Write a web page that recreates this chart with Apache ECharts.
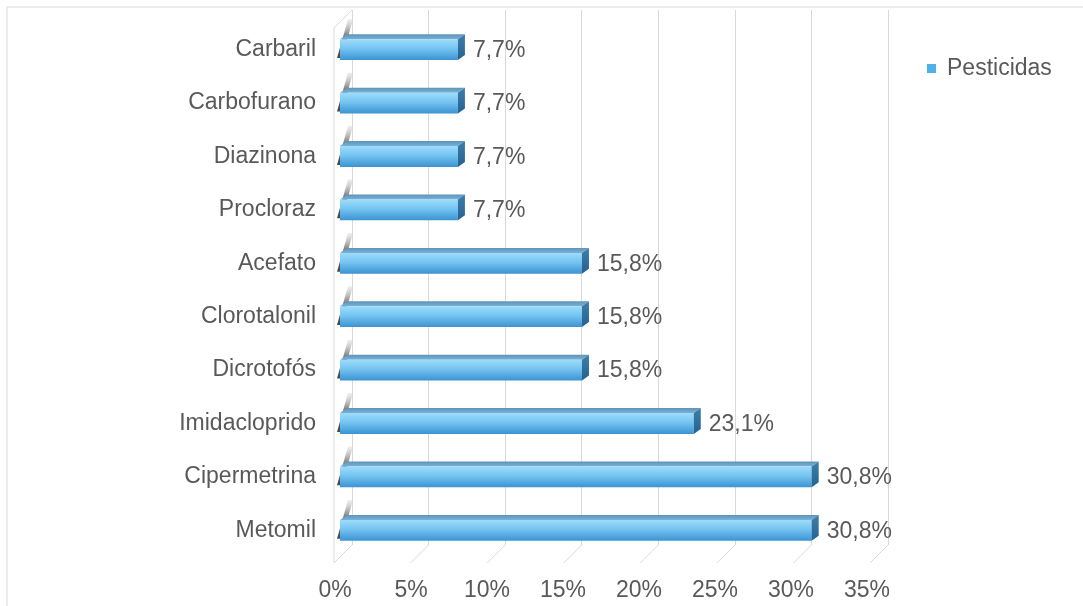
<!DOCTYPE html>
<html>
<head>
<meta charset="utf-8">
<script src="https://cdn.jsdelivr.net/npm/echarts@6/dist/echarts.min.js"></script>
<style>
html,body{margin:0;padding:0;background:#fff;}
#main{width:1083px;height:606px;}
</style>
</head>
<body>
<div id="main"></div>
<script>
const categories = ['Carbaril','Carbofurano','Diazinona','Procloraz','Acefato','Clorotalonil','Dicrotofós','Imidacloprido','Cipermetrina','Metomil'];
const values = [7.7, 7.7, 7.7, 7.7, 15.8, 15.8, 15.8, 23.1, 30.8, 30.8];
const ticks = [0, 5, 10, 15, 20, 25, 30, 35];
const seriesName = 'Pesticidas';

const FONT = 'Liberation Sans, Arial, sans-serif';
const TXT = '#595959';
const chart = echarts.init(document.getElementById('main'));

function fmt(v){ return v.toFixed(1).replace('.', ',') + '%'; }

const DX = 7, DY = 5;

chart.setOption({
  animation: false,
  backgroundColor: '#fff',
  graphic: [
    { type: 'rect', shape: { x: 7, y: 7, width: 1090, height: 620 }, style: { fill: 'none', stroke: '#d9d9d9', lineWidth: 1 }, z: 0 },
    { type: 'line', shape: { x1: 334, y1: 28, x2: 334, y2: 562 }, style: { stroke: '#d9d9d9', lineWidth: 1 }, z: 1 },
    { type: 'line', shape: { x1: 334, y1: 28, x2: 352, y2: 10 }, style: { stroke: '#d9d9d9', lineWidth: 1 }, z: 1 }
  ],
  legend: {
    data: [seriesName],
    left: 922, top: 52,
    icon: 'rect', itemWidth: 9, itemHeight: 9,
    textStyle: { fontFamily: FONT, fontSize: 23, color: TXT, padding: [0, 0, 0, 6] }
  },
  grid: [
    { left: 352, right: 195, top: 10, bottom: 61 },
    { left: 335, right: 216, top: 23, bottom: 49 },
    { left: 340, right: 207, top: 23, bottom: 49 }
  ],
  xAxis: [
    { gridIndex: 0, type: 'value', min: 0, max: 35, interval: 5,
      axisLine: { show: false }, axisTick: { show: false }, axisLabel: { show: false },
      splitLine: { show: true, lineStyle: { color: '#d9d9d9', width: 1 } } },
    { gridIndex: 1, type: 'value', min: 0, max: 35, interval: 5,
      axisLine: { show: false }, axisTick: { show: false }, splitLine: { show: false },
      axisLabel: { margin: 22, fontFamily: FONT, fontSize: 23, color: TXT, formatter: v => v + '%' } },
    { gridIndex: 2, type: 'value', min: 0, max: 35, interval: 5, show: false }
  ],
  yAxis: [
    { gridIndex: 0, type: 'value', min: 0, max: 1, show: false },
    { gridIndex: 1, type: 'category', data: categories, inverse: true, show: false },
    { gridIndex: 2, type: 'category', data: categories, inverse: true,
      axisLine: { show: false }, axisTick: { show: false }, splitLine: { show: false },
      axisLabel: { margin: 24, fontFamily: FONT, fontSize: 23, color: TXT } }
  ],
  series: [
    {
      type: 'custom', name: 'floor', xAxisIndex: 0, yAxisIndex: 0, silent: true,
      data: ticks.map(t => [t, 0]),
      renderItem: function (params, api) {
        const p = api.coord([api.value(0), 0]);
        return { type: 'line', shape: { x1: p[0], y1: p[1], x2: p[0] - 18, y2: p[1] + 18 },
          style: { stroke: '#d9d9d9', lineWidth: 1 } };
      },
      z: 1
    },
    {
      type: 'custom', name: seriesName, xAxisIndex: 2, yAxisIndex: 2,
      itemStyle: { color: '#4fb0ea' },
      data: values.map((v, i) => [v, i]),
      encode: { x: 0, y: 1 },
      renderItem: function (params, api) {
        const v = api.value(0);
        const idx = api.value(1);
        const s = api.coord([0, idx]);
        const e = api.coord([v, idx]);
        const band = api.size([0, 1])[1];
        const h = band * 0.39;
        const x0 = s[0], x1 = e[0];
        const y0 = e[1] - h / 2, y1 = e[1] + h / 2;
        return {
          type: 'group',
          children: [
            { type: 'polygon', shape: { points: [[x0 - 3, y1 - 2], [x0 + 2, y1 - 2], [x0 + 13, y0 - 20], [x0 + 8, y0 - 20]] },
              style: { fill: new echarts.graphic.LinearGradient(0, 0, 0, 1, [
                { offset: 0, color: 'rgba(200,200,200,0.3)' },
                { offset: 0.45, color: 'rgba(90,90,90,0.85)' },
                { offset: 1, color: 'rgba(60,60,60,0.95)' }]) } },
            { type: 'polygon', shape: { points: [[x0, y0], [x1, y0], [x1 + DX, y0 - DY], [x0 + DX, y0 - DY]] },
              style: { fill: new echarts.graphic.LinearGradient(0, 0, 0, 1, [
                { offset: 0, color: '#5e93b8' },
                { offset: 1, color: '#78b2d6' }]) } },
            { type: 'rect', shape: { x: x0, y: y0, width: x1 - x0, height: h },
              style: { fill: new echarts.graphic.LinearGradient(0, 0, 0, 1, [
                { offset: 0, color: '#9ddcfb' },
                { offset: 0.45, color: '#74c4f1' },
                { offset: 1, color: '#3b93d2' }]) } },
            { type: 'polygon', shape: { points: [[x1, y0], [x1 + DX, y0 - DY], [x1 + DX, y1 - DY], [x1, y1]] },
              style: { fill: new echarts.graphic.LinearGradient(0, 0, 0, 1, [
                { offset: 0, color: '#3e7eab' },
                { offset: 1, color: '#25618e' }]) } },
            { type: 'text', style: { text: fmt(v), x: x1 + 15, y: e[1] + 1, align: 'left', verticalAlign: 'middle',
                fontFamily: FONT, fontSize: 23, fill: TXT } }
          ]
        };
      },
      z: 3
    }
  ]
});
</script>
</body>
</html>
